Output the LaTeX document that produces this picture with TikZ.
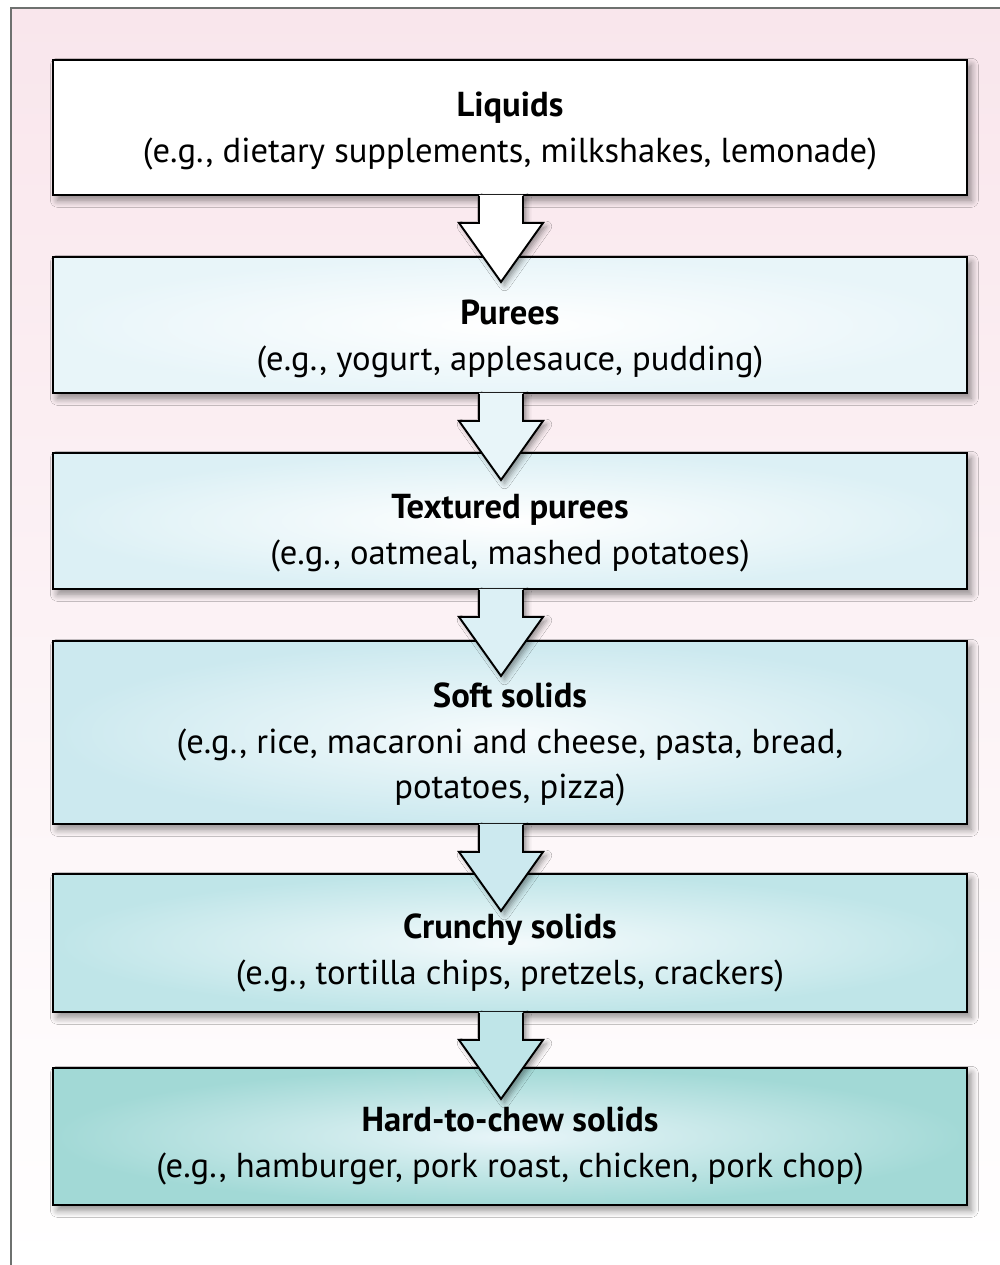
\documentclass[tikz,border=0pt]{standalone}
\usepackage{fontspec}
\setmainfont{PT Sans}
\usetikzlibrary{calc,shadows.blur}

\definecolor{bgpink}{HTML}{F9E6EC}
\definecolor{framegray}{HTML}{6E716F}
\definecolor{pureeblue}{HTML}{E8F5F9}
\definecolor{texturedblue}{HTML}{DCF0F5}
\definecolor{softblue}{HTML}{CCE9EF}
\definecolor{crunchyblue}{HTML}{BFE5E8}
\definecolor{hardteal}{HTML}{A2D9D6}

\tikzset{
  stagebox/.style={draw=black, line width=1.1pt, minimum width=18.28cm,
    inner sep=0pt, align=center, font=\fontsize{19.7}{26}\selectfont,
    blur shadow={shadow xshift=2.5pt, shadow yshift=-3pt,
      shadow blur radius=4pt, shadow opacity=45, shadow blur steps=8}},
  stagearrow/.style={line width=1.1pt, line join=miter},
}

% bold first line, pushed down a little by a strut
\newcommand{\stagetitle}[2][28pt]{\rule{0pt}{#1}\textbf{#2}}

% arrow from the bottom of one box into the next
\newcommand{\flowarrow}[2]{%
  \begin{scope}[shift={($(#1.south)+(-9,0)$)}]
    \fill[#2, blur shadow={shadow xshift=2pt, shadow yshift=-2pt,
      shadow blur radius=3pt, shadow opacity=40}]
      (-22,-1) -- (-22,27) -- (-42,27) -- (0,86) -- (42,27) -- (22,27) -- (22,-1) -- cycle;
    \draw[stagearrow] (-22,0) -- (-22,27) -- (-42,27) -- (0,86) -- (42,27) -- (22,27) -- (22,0);
  \end{scope}}

\begin{document}
\begin{tikzpicture}[x=0.02cm, y=-0.02cm]
\useasboundingbox (0,0) rectangle (1000,1265);

% background and frame
\fill[top color=bgpink, middle color=bgpink!60!white, bottom color=white] (11,8) rectangle (1000,1265);
\draw[framegray, line width=1.7pt] (11,1265) -- (11,8) -- (1000,8);

% stages
\node[stagebox, fill=white, minimum height=2.7cm] (liquids) at (510,127.5)
  {\stagetitle[18pt]{Liquids}\\(e.g., dietary supplements, milkshakes, lemonade)};
\node[stagebox, inner color=white, outer color=pureeblue, minimum height=2.72cm] (purees) at (510,325)
  {\stagetitle[30pt]{Purees}\\(e.g., yogurt, applesauce, pudding)};
\node[stagebox, inner color=white, outer color=texturedblue, minimum height=2.72cm] (textured) at (510,521)
  {\stagetitle{Textured purees}\\(e.g., oatmeal, mashed potatoes)};
\node[stagebox, inner color=pureeblue!40!white, outer color=softblue, minimum height=3.66cm] (soft) at (510,732.5)
  {\stagetitle{Soft solids}\\(e.g., rice, macaroni and cheese, pasta, bread,\\potatoes, pizza)};
\node[stagebox, inner color=pureeblue!50!white, outer color=crunchyblue, minimum height=2.76cm] (crunchy) at (510,943)
  {\stagetitle[25pt]{Crunchy solids}\\(e.g., tortilla chips, pretzels, crackers)};
\node[stagebox, inner color=pureeblue, outer color=hardteal, minimum height=2.74cm] (hard) at (510,1136.5)
  {\stagetitle[25pt]{Hard-to-chew solids}\\(e.g., hamburger, pork roast, chicken, pork chop)};

% arrows between stages
\flowarrow{liquids}{white}
\flowarrow{purees}{pureeblue}
\flowarrow{textured}{texturedblue}
\flowarrow{soft}{softblue}
\flowarrow{crunchy}{crunchyblue}

\end{tikzpicture}
\end{document}
